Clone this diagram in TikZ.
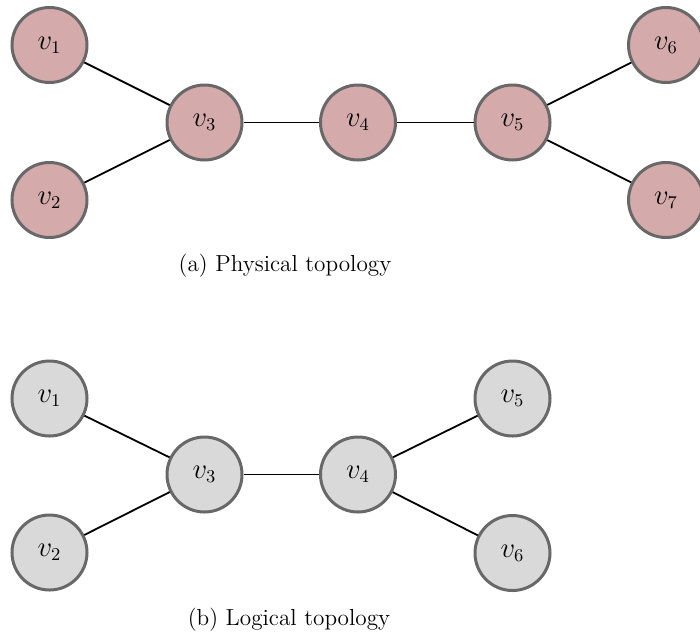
\documentclass[tikz,border=0pt]{standalone}
\usepackage{xcolor}
\definecolor{physfill}{RGB}{212,170,171}
\definecolor{logfill}{RGB}{217,217,217}
\definecolor{vborder}{RGB}{104,104,104}
\begin{document}
\begin{tikzpicture}[x=0.5pt,y=-0.5pt,
  vertex/.style={circle,draw=vborder,line width=1.5pt,minimum size=37.5pt,inner sep=0pt,
    font=\fontsize{13.5}{16}\selectfont},
  phys/.style={vertex,fill=physfill},
  logi/.style={vertex,fill=logfill},
  link/.style={line width=0.9pt,black},
  caption/.style={font=\fontsize{11.6}{14}\selectfont,inner sep=0pt}]
\useasboundingbox (0,0) rectangle (700,633);

% (a) physical topology
\node[phys] (a1) at (49.5,45)  {$v_1$};
\node[phys] (a2) at (49.5,200) {$v_2$};
\node[phys] (a3) at (204.5,122.5) {$v_3$};
\node[phys] (a4) at (358,122.5) {$v_4$};
\node[phys] (a5) at (512.5,122.5) {$v_5$};
\node[phys] (a6) at (666,45)  {$v_6$};
\node[phys] (a7) at (666,200) {$v_7$};
\draw[link] (a1) -- (a3);
\draw[link] (a2) -- (a3);
\draw[link] (a3) -- (a4);
\draw[link] (a4) -- (a5);
\draw[link] (a5) -- (a6);
\draw[link] (a5) -- (a7);
\node[caption] (capa) at (285,266) {(a) Physical topology};

% (b) logical topology
\node[logi] (b1) at (49.5,398.5) {$v_1$};
\node[logi] (b2) at (49.5,552.5) {$v_2$};
\node[logi] (b3) at (204.5,474.5) {$v_3$};
\node[logi] (b4) at (358,474.5) {$v_4$};
\node[logi] (b5) at (512.5,398.5) {$v_5$};
\node[logi] (b6) at (512.5,553) {$v_6$};
\draw[link] (b1) -- (b3);
\draw[link] (b2) -- (b3);
\draw[link] (b3) -- (b4);
\draw[link] (b4) -- (b5);
\draw[link] (b4) -- (b6);
\node[caption] (capb) at (289,620) {(b) Logical topology};
\end{tikzpicture}
\end{document}
